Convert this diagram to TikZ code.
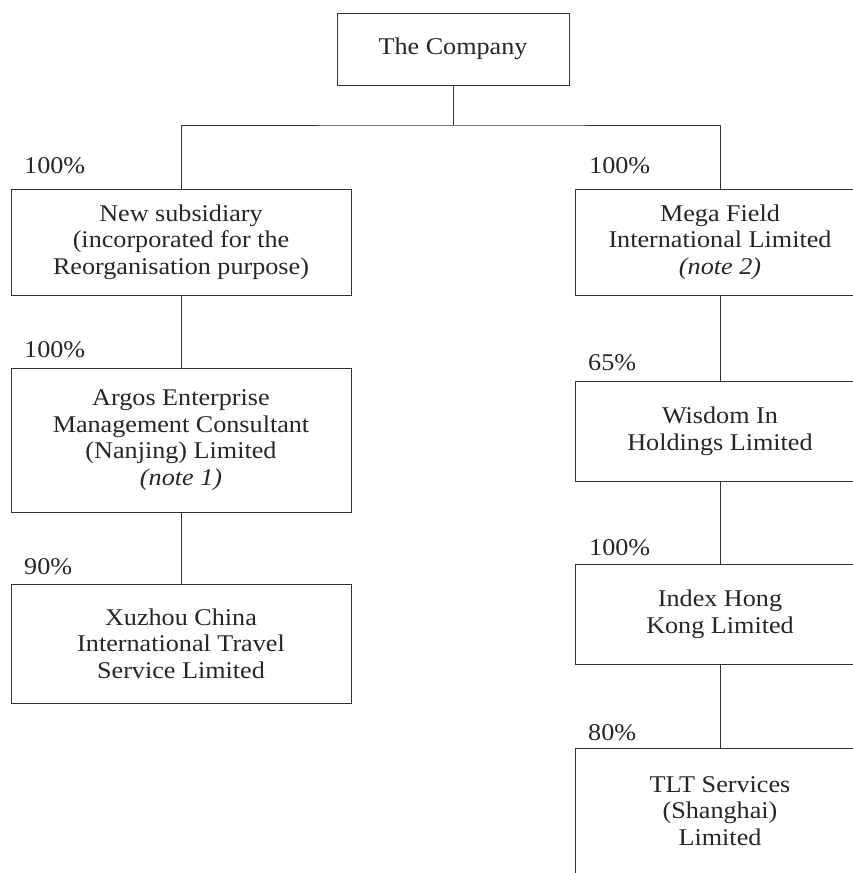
\documentclass[tikz,border=0pt]{standalone}
\usepackage{fontspec}
\setmainfont[FakeStretch=1.09]{Liberation Serif}
\begin{document}
\begin{tikzpicture}[x=1pt,y=-1pt,
  ent/.style={draw=black!80,line width=0.9pt,rectangle,align=center,inner sep=0pt,
    font=\fontsize{24}{26.7}\selectfont,text=black!85},
  pct/.style={anchor=west,inner sep=0pt,font=\fontsize{24}{26.7}\selectfont,text=black!85},
  conn/.style={draw=black!80,line width=0.9pt}]
\useasboundingbox (0,0) rectangle (853,873);
\clip (0,0) rectangle (853,873);
\node[ent,minimum width=232,minimum height=72] (company) at (453,49) {The Company};
\node[ent,minimum width=340,minimum height=106] (newsub) at (181,242) {New subsidiary\\(incorporated for the\\Reorganisation purpose)};
\node[ent,minimum width=340,minimum height=144] (argos) at (181,440) {Argos Enterprise\\Management Consultant\\(Nanjing) Limited\\\textit{(note 1)}};
\node[ent,minimum width=340,minimum height=119] (xuzhou) at (181,643.5) {Xuzhou China\\International Travel\\Service Limited};
\node[ent,minimum width=290,minimum height=106] (mega) at (720,242) {Mega Field\\International Limited\\\textit{(note 2)}};
\node[ent,minimum width=290,minimum height=100] (wisdom) at (720,431) {Wisdom In\\Holdings Limited};
\node[ent,minimum width=290,minimum height=100] (index) at (720,614) {Index Hong\\Kong Limited};
\node[ent,minimum width=290,minimum height=126] (tlt) at (720,811) {TLT Services\\(Shanghai)\\Limited};
\node[pct] (p1) at (24,166) {100\%};
\node[pct] (p2) at (24,350) {100\%};
\node[pct] (p3) at (24,567) {90\%};
\node[pct] (p4) at (589,166) {100\%};
\node[pct] (p5) at (588,363) {65\%};
\node[pct] (p6) at (589,548) {100\%};
\node[pct] (p7) at (588,733) {80\%};
\coordinate (jn) at (453,125);
\draw[conn] (company.south) -- (jn);
\draw[conn] (newsub.north) |- (jn) -| (mega.north);
\draw[conn] (newsub.south) -- (argos.north);
\draw[conn] (argos.south) -- (xuzhou.north);
\draw[conn] (mega.south) -- (wisdom.north);
\draw[conn] (wisdom.south) -- (index.north);
\draw[conn] (index.south) -- (tlt.north);
\end{tikzpicture}
\end{document}
